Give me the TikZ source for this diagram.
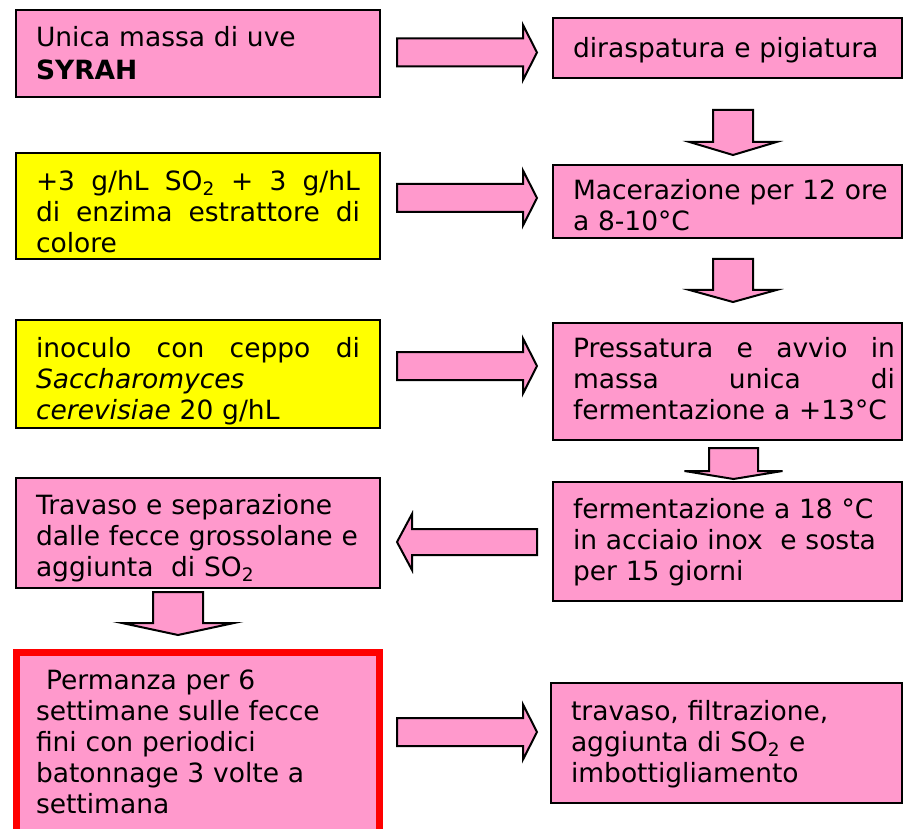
\documentclass[tikz,border=0pt]{standalone}
\usepackage{fontspec}
\setmainfont{DejaVu Sans}
\definecolor{pinkfill}{HTML}{FF99CC}
\definecolor{yelfill}{HTML}{FFFF00}
\definecolor{redline}{HTML}{FF0000}
\newcommand{\fstrut}{\rule{0pt}{20pt}}
\tikzset{
  box/.style={draw=black, line width=2pt, fill=pinkfill, anchor=north west,
    inner sep=0pt, outer sep=0pt},
  yelbox/.style={box, fill=yelfill},
  redbox/.style={box, draw=redline, line width=7pt},
  txt/.style={anchor=north west, inner sep=0pt, outer sep=0pt, align=left,
    font=\fontsize{26.5}{31}\selectfont},
  blk/.style={draw=black, line width=2pt, fill=pinkfill, line join=miter},
  pics/rarrow/.style={code={\draw[blk] (0,-14) -- (126,-14) -- (126,-27.5) -- (140,0)
      -- (126,27.5) -- (126,14) -- (0,14) -- cycle;}},
  pics/larrow/.style={code={\draw[blk] (0,0) -- (15,-28) -- (15,-13) -- (140,-13)
      -- (140,13) -- (15,13) -- (15,28) -- cycle;}},
  pics/darrow/.style n args={4}{code={\draw[blk] (-#1,0) -- (#1,0) -- (#1,#3) -- (#2,#3)
      -- (0,#4) -- (-#2,#3) -- (-#1,#3) -- cycle;}}
}
\begin{document}
\begin{tikzpicture}[x=1pt, y=-1pt]
\useasboundingbox (0,0) rectangle (903,829);
\clip (0,0) rectangle (903,829);
% left column boxes
\node[box, minimum width=364pt, minimum height=87pt] (b1) at (16,10) {};
\node[yelbox, minimum width=364pt, minimum height=106pt] (b2) at (16,153) {};
\node[yelbox, minimum width=364pt, minimum height=108pt] (b3) at (16,320) {};
\node[box, minimum width=364pt, minimum height=110pt] (b4) at (16,478) {};
\node[redbox, minimum width=362.5pt, minimum height=182pt] (b5) at (16.5,652.5) {};
% right column boxes
\node[box, minimum width=349pt, minimum height=60pt] (r1) at (553,18) {};
\node[box, minimum width=349pt, minimum height=73pt] (r2) at (553,165) {};
\node[box, minimum width=349pt, minimum height=117pt] (r3) at (553,323) {};
\node[box, minimum width=349pt, minimum height=119pt] (r4) at (553,482) {};
\node[box, minimum width=351pt, minimum height=120pt] (r5) at (551,683) {};
% texts
\node[txt, text width=330pt] (t1) at (36,26) {\fstrut Unica massa di uve\\[2pt]\textbf{SYRAH}};
\node[txt, text width=324pt] (t2) at (36,170) {\fstrut\makebox[324pt][l]{+3\hfill g/hL\hfill SO\textsubscript{2}\hfill +\hfill 3\hfill g/hL}\\
  \makebox[324pt][l]{di\hfill enzima\hfill estrattore\hfill di}\\colore};
\node[txt, text width=324pt] (t3) at (36,337) {\fstrut\makebox[324pt][l]{inoculo\hfill con\hfill ceppo\hfill di}\\
  \textit{Saccharomyces}\\\textit{cerevisiae} 20 g/hL};
\node[txt, text width=340pt] (t4) at (36,494) {\fstrut Travaso e separazione\\dalle fecce grossolane e\\aggiunta\ \ di SO\textsubscript{2}};
\node[txt, text width=340pt] (t5) at (36,669) {\fstrut\hspace*{10pt}Permanza per 6\\settimane sulle fecce\\fini con periodici\\batonnage 3 volte a\\settimana};
\node[txt, text width=325pt] (t6) at (573,37) {\fstrut diraspatura e pigiatura};
\node[txt, text width=325pt] (t7) at (573,179) {\fstrut Macerazione per 12 ore\\a 8-10°C};
\node[txt, text width=322pt] (t8) at (573,337) {\fstrut\makebox[322pt][l]{Pressatura\hfill e\hfill avvio\hfill in}\\
  \makebox[322pt][l]{massa\hfill unica\hfill di}\\fermentazione a +13°C};
\node[txt, text width=325pt] (t9) at (573,498) {\fstrut fermentazione a 18 °C\\in acciaio inox\ \ e sosta\\per 15 giorni};
\node[txt, text width=325pt] (t10) at (571,700) {\fstrut travaso, filtrazione,\\aggiunta di SO\textsubscript{2} e\\imbottigliamento};
% block arrows
\pic (a1) at (397,52.5) {rarrow};
\pic (a2) at (397,198) {rarrow};
\pic (a3) at (397,366) {rarrow};
\pic (a4) at (397,542) {larrow};
\pic (a5) at (397,732) {rarrow};
\pic (d1) at (733,110) {darrow={20}{43.5}{32}{45}};
\pic (d2) at (733,259) {darrow={20}{43.5}{31}{43}};
\pic (d3) at (733.5,448) {darrow={24.5}{49}{23}{31}};
\pic (d4) at (178,592) {darrow={25}{56}{31}{43}};
\end{tikzpicture}
\end{document}
